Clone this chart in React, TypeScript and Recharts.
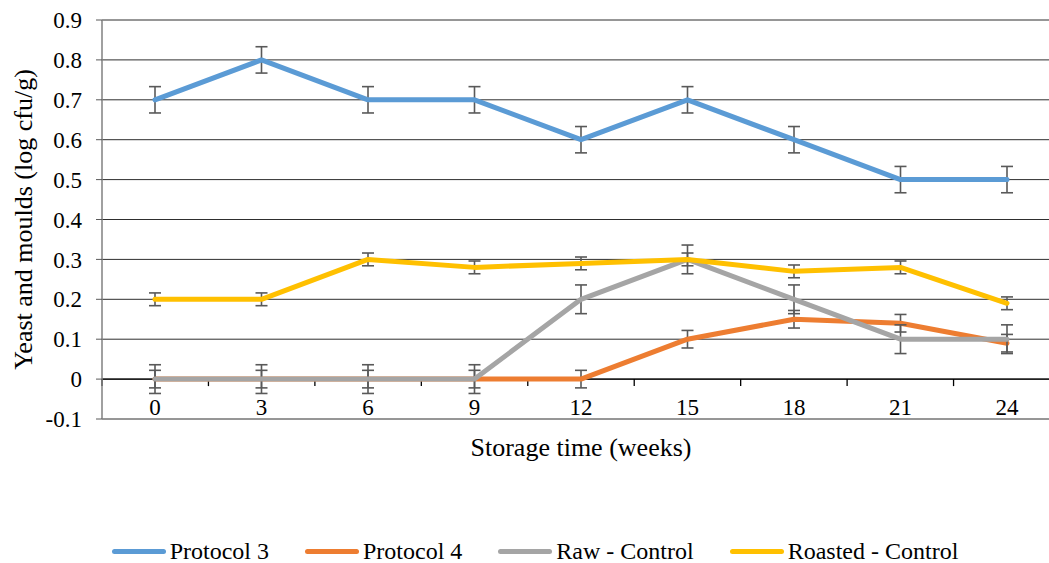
import {
  LineChart,
  Line,
  XAxis,
  YAxis,
  CartesianGrid,
  ErrorBar,
  Legend,
  ReferenceLine,
} from 'recharts'

const weeks = ['0', '3', '6', '9', '12', '15', '18', '21', '24']
const protocol3 = [0.7, 0.8, 0.7, 0.7, 0.6, 0.7, 0.6, 0.5, 0.5]
const protocol3Err = [0.033, 0.033, 0.033, 0.033, 0.033, 0.033, 0.033, 0.033, 0.033]
const protocol4 = [0, 0, 0, 0, 0, 0.1, 0.15, 0.14, 0.09]
const protocol4Err = [0.022, 0.022, 0.022, 0.022, 0.022, 0.022, 0.022, 0.022, 0.022]
const rawControl = [0, 0, 0, 0, 0.2, 0.3, 0.2, 0.1, 0.1]
const rawControlErr = [0.036, 0.036, 0.036, 0.036, 0.036, 0.036, 0.036, 0.036, 0.036]
const roastedControl = [0.2, 0.2, 0.3, 0.28, 0.29, 0.3, 0.27, 0.28, 0.19]
const roastedControlErr = [0.016, 0.016, 0.016, 0.016, 0.016, 0.016, 0.016, 0.016, 0.016]
const yTicks = [-0.1, 0, 0.1, 0.2, 0.3, 0.4, 0.5, 0.6, 0.7, 0.8, 0.9]

const data = weeks.map((w, i) => ({
  week: w,
  p3: protocol3[i],
  p3Err: protocol3Err[i],
  p4: protocol4[i],
  p4Err: protocol4Err[i],
  raw: rawControl[i],
  rawErr: rawControlErr[i],
  roasted: roastedControl[i],
  roastedErr: roastedControlErr[i],
}))

const font = 'Liberation Serif, Tinos, Times New Roman, DejaVu Serif, serif'
const errColor = '#595959'

// category labels sit just under the zero line, inside the plot
const XTick = (props: any) => {
  const { x, y, payload } = props
  return (
    <text x={x} y={y - 4} textAnchor="middle" fill="#000" fontSize={23} style={{ fontFamily: font }}>
      {payload.value}
    </text>
  )
}

// horizontal axis drawn at y = 0 with tick marks between categories
const ZeroAxis = (props: any) => {
  const { x1, y1, x2, y2 } = props
  const n = weeks.length
  const step = (x2 - x1) / n
  return (
    <g>
      <line x1={x1} y1={y1} x2={x2} y2={y2} stroke="#000" strokeWidth={1.3} />
      {Array.from({ length: n + 1 }, (_, i) => (
        <line
          key={i}
          x1={x1 + i * step}
          x2={x1 + i * step}
          y1={y1}
          y2={y1 + 7}
          stroke="#000"
          strokeWidth={1.3}
        />
      ))}
    </g>
  )
}

const renderLegend = (props: any) => {
  const { payload } = props
  return (
    <div
      style={{
        display: 'flex',
        justifyContent: 'center',
        alignItems: 'center',
        gap: 36,
        fontFamily: font,
        fontSize: 24,
        color: '#000',
      }}
    >
      {payload.map((entry: any) => (
        <div key={entry.value} style={{ display: 'flex', alignItems: 'center' }}>
          <span
            style={{
              display: 'inline-block',
              width: 54,
              height: 5,
              borderRadius: 3,
              background: entry.color,
              marginRight: 4,
            }}
          />
          <span>{entry.value}</span>
        </div>
      ))}
    </div>
  )
}

export default function App() {
  return (
    <div style={{ width: 1049, height: 563, overflow: 'hidden', position: 'relative', background: '#fff', fontFamily: font }}>
      <style>{'body{margin:0} .recharts-text{font-family:' + font + '}'}</style>
      <LineChart
        width={1070}
        height={563}
        data={data}
        margin={{ top: 20, right: 10, left: 0, bottom: 76 }}
      >
        <CartesianGrid vertical={false} stroke="#2e2e2e" strokeWidth={1} />
        <XAxis
          dataKey="week"
          axisLine={false}
          tickLine={false}
          tickSize={0}
          tickMargin={0}
          height={40}
          padding={{ left: 53, right: 53 }}
          tick={<XTick />}
          interval={0}
          label={{
            value: 'Storage time (weeks)',
            position: 'insideBottom',
            offset: 3,
            fill: '#000',
            fontSize: 26,
          }}
        />
        <YAxis
          width={102}
          domain={[-0.1, 0.9]}
          ticks={yTicks}
          interval={0}
          allowDataOverflow
          axisLine={{ stroke: '#808080', strokeWidth: 1.5 }}
          tickLine={{ stroke: '#595959' }}
          tickSize={6}
          tickMargin={14}
          tick={{ fill: '#000', fontSize: 23 }}
          tickFormatter={(v: number) => String(parseFloat(v.toFixed(1)))}
          label={{
            value: 'Yeast and moulds (log cfu/g)',
            angle: -90,
            position: 'insideLeft',
            offset: 23,
            fill: '#000',
            fontSize: 26,
            style: { textAnchor: 'middle' },
          }}
        />
        <ReferenceLine y={0} shape={<ZeroAxis />} />
        <Line
          name="Protocol 3"
          dataKey="p3"
          type="linear"
          stroke="#5B9BD5"
          strokeWidth={5}
          strokeLinecap="round"
          strokeLinejoin="round"
          dot={false}
          isAnimationActive={false}
        >
          <ErrorBar dataKey="p3Err" width={6} stroke={errColor} strokeWidth={1.6} />
        </Line>
        <Line
          name="Protocol 4"
          dataKey="p4"
          type="linear"
          stroke="#ED7D31"
          strokeWidth={5}
          strokeLinecap="round"
          strokeLinejoin="round"
          dot={false}
          isAnimationActive={false}
        >
          <ErrorBar dataKey="p4Err" width={6} stroke={errColor} strokeWidth={1.6} />
        </Line>
        <Line
          name="Raw - Control"
          dataKey="raw"
          type="linear"
          stroke="#A5A5A5"
          strokeWidth={5}
          strokeLinecap="round"
          strokeLinejoin="round"
          dot={false}
          isAnimationActive={false}
        >
          <ErrorBar dataKey="rawErr" width={6} stroke={errColor} strokeWidth={1.6} />
        </Line>
        <Line
          name="Roasted - Control"
          dataKey="roasted"
          type="linear"
          stroke="#FFC000"
          strokeWidth={5}
          strokeLinecap="round"
          strokeLinejoin="round"
          dot={false}
          isAnimationActive={false}
        >
          <ErrorBar dataKey="roastedErr" width={6} stroke={errColor} strokeWidth={1.6} />
        </Line>
        <Legend
          verticalAlign="bottom"
          height={28}
          content={renderLegend}
          wrapperStyle={{ left: 0, width: 1070, bottom: -3 }}
        />
      </LineChart>
    </div>
  )
}
